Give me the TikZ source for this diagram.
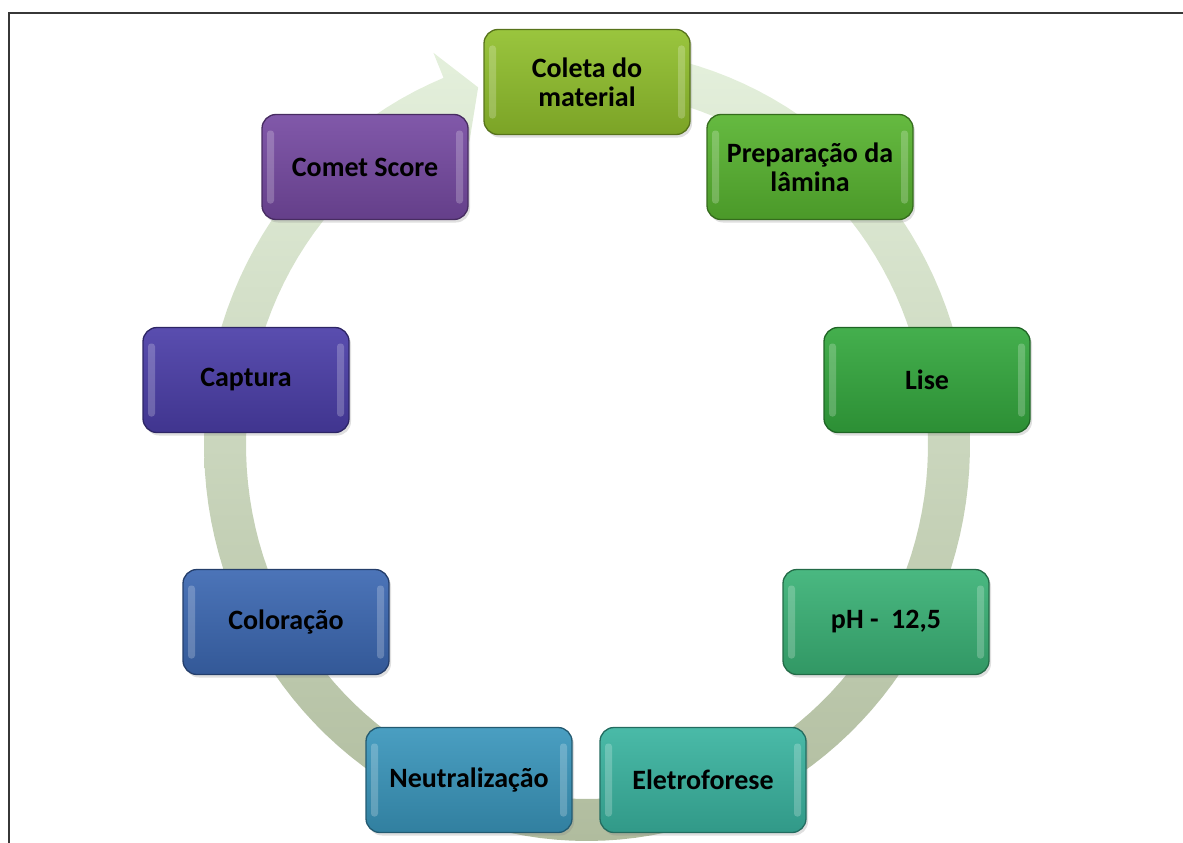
\documentclass[tikz,border=0pt]{standalone}
\usepackage{fontspec}
\setmainfont{Carlito}
\usepackage{tikz}
\usetikzlibrary{shadows,backgrounds,calc}

\definecolor{cColeta}{RGB}{145,192,45}
\definecolor{cPrep}{RGB}{88,180,48}
\definecolor{cLise}{RGB}{52,168,62}
\definecolor{cPH}{RGB}{58,178,118}
\definecolor{cEletro}{RGB}{58,180,160}
\definecolor{cNeutral}{RGB}{58,150,188}
\definecolor{cColor}{RGB}{60,104,178}
\definecolor{cCaptura}{RGB}{75,62,168}
\definecolor{cComet}{RGB}{118,74,162}
\definecolor{ringtop}{RGB}{228,240,220}
\definecolor{ringbot}{RGB}{176,188,158}
\definecolor{moldura}{RGB}{55,55,55}

\begin{document}
\begin{tikzpicture}[x = 1pt, y = -1pt,
every node/.style = {font = \bfseries\fontsize{28}{29}\selectfont, align = center, text = black}]

\tikzset{
	stepbox/.style = {
		rounded corners = 14pt, minimum width = 206pt, minimum height = 105pt,
		draw = #1!60!black, line width = 1.3pt,
		top color = #1!92!white, bottom color = #1!85!black,
		drop shadow = {opacity = 0.25, shadow xshift = 2pt, shadow yshift = -3pt},
		path picture = {
			\fill[white, opacity = 0.22, rounded corners = 3pt] ($(path picture bounding box.north west)+(5pt,-16pt)$) rectangle ($(path picture bounding box.south west)+(12pt,16pt)$);
			\fill[white, opacity = 0.22, rounded corners = 3pt] ($(path picture bounding box.north east)+(-12pt,-16pt)$) rectangle ($(path picture bounding box.south east)+(-5pt,16pt)$);
		}
	}
}

\useasboundingbox (0,0) rectangle (1183,843);

% Moldura (cortada)
\draw[moldura, line width = 2.6pt] (9,843) -- (9,13) -- (1183,13);

% Etapas do ciclo
\node[stepbox = cColeta] (CM) at (587,82) {Coleta do\\material};
\node[stepbox = cPrep] (PL) at (810,167) {Preparação da\\lâmina};
\node[stepbox = cLise] (LI) at (927,380) {Lise};
\node[stepbox = cPH] (PH) at (886,622) {pH - \ 12,5};
\node[stepbox = cEletro] (EL) at (703,780) {Eletroforese};
\node[stepbox = cNeutral] (NE) at (469,780) {Neutralização};
\node[stepbox = cColor] (CO) at (286,622) {Coloração};
\node[stepbox = cCaptura] (CA) at (246,380) {Captura};
\node[stepbox = cComet] (CS) at (365,167) {Comet Score};

\begin{pgfonlayer}{background}
% seta circular, sentido horario
\path[top color = ringtop, bottom color = ringbot]
	plot[domain = 85:-248, samples = 140] ({587+383*cos(\x)}, {445-396*sin(\x)})
	-- ({587+410*cos(-248)}, {445-423*sin(-248)})
	-- ({587+362*cos(-252.5)}, {445-375*sin(-252.5)})
	-- ({587+314*cos(-248)}, {445-327*sin(-248)})
	-- plot[domain = -248:85, samples = 140] ({587+341*cos(\x)}, {445-354*sin(\x)})
	-- cycle;
\end{pgfonlayer}
\end{tikzpicture}
\end{document}
